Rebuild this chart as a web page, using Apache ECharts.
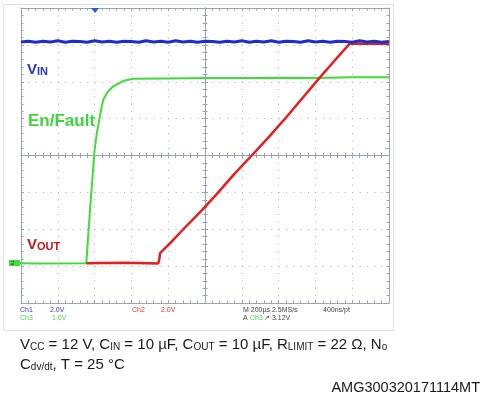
<!DOCTYPE html>
<html><head><meta charset="utf-8">
<script src="https://cdn.jsdelivr.net/npm/echarts@6/dist/echarts.min.js"></script>
<style>html,body{margin:0;padding:0;background:#fff}#c{width:482px;height:400px}</style>
</head><body><div id="c"></div><script>
// Scope screen in divisions, centred: x -5..5 (200 µs/div), y -4..4
const vinTrace = [[-5,3.08],[-4.8,3.10],[-4.6,3.07],[-4.4,3.10],[-4.2,3.08],[-4.0,3.11],[-3.8,3.07],[-3.6,3.10],[-3.4,3.09],[-3.2,3.07],[-3.0,3.11],[-2.8,3.08],[-2.6,3.10],[-2.4,3.07],[-2.2,3.10],[-2.0,3.09],[-1.8,3.07],[-1.6,3.11],[-1.4,3.08],[-1.2,3.10],[-1.0,3.07],[-0.8,3.11],[-0.6,3.08],[-0.4,3.10],[-0.2,3.07],[0,3.10],[0.2,3.09],[0.4,3.07],[0.6,3.10],[0.8,3.08],[1.0,3.11],[1.2,3.07],[1.4,3.10],[1.6,3.08],[1.8,3.11],[2.0,3.07],[2.2,3.10],[2.4,3.09],[2.6,3.07],[2.8,3.11],[3.0,3.08],[3.2,3.10],[3.4,3.07],[3.6,3.10],[3.8,3.09],[4.0,3.07],[4.2,3.11],[4.4,3.08],[4.6,3.10],[4.8,3.07],[5,3.09]];
const enFaultTrace = [[-5.3,-2.92],[-4.5,-2.93],[-3.225,-2.92],[-3.12,-1.4],[-3.0,0.15],[-2.94,0.6],[-2.85,1.1],[-2.77,1.5],[-2.65,1.72],[-2.5,1.87],[-2.23,2.02],[-1.96,2.08],[-1.0,2.09],[0,2.1],[1,2.1],[2,2.11],[3,2.1],[4,2.12],[5,2.12]];
const voutTrace = [[-3.225,-2.92],[-2.2,-2.91],[-1.27,-2.93],[-1.24,-2.8],[-1.22,-2.65],[-0.9,-2.33],[-0.59,-2.0],[-0.1,-1.5],[0.36,-1.0],[0.8,-0.5],[1.27,0.0],[1.75,0.52],[2.22,1.05],[2.65,1.56],[3.1,2.09],[3.5,2.55],[3.94,3.04],[4.4,3.03],[5,3.03]];
const xDivRange = [-5, 5];
const yDivRange = [-4, 4];

const GRID_C = '#9aa0b8';
const dotted = {color:'#a8adbf', width:1, type:[1,6.36]};
function xAx(pos, onZero, inside, split){
  return {type:'value', min:xDivRange[0], max:xDivRange[1], interval:1, position:pos,
    axisLine:{show:true, onZero:onZero, onZeroAxisIndex:0, lineStyle:{color:GRID_C,width:1}},
    axisTick:{show:true, inside:inside, length:3, lineStyle:{color:GRID_C}},
    minorTick:{show:true, splitNumber:5, length:2.5, lineStyle:{color:GRID_C}},
    splitLine:{show:split, lineStyle:dotted}, minorSplitLine:{show:false},
    axisLabel:{show:false}};
}
function yAx(pos, onZero, inside, split){
  return {type:'value', min:yDivRange[0], max:yDivRange[1], interval:1, position:pos,
    axisLine:{show:true, onZero:onZero, onZeroAxisIndex:0, lineStyle:{color:GRID_C,width:1}},
    axisTick:{show:true, inside:inside, length:3, lineStyle:{color:GRID_C}},
    minorTick:{show:true, splitNumber:5, length:2.5, lineStyle:{color:GRID_C}},
    splitLine:{show:split, lineStyle:dotted}, minorSplitLine:{show:false},
    axisLabel:{show:false}};
}
const FONT = 'Liberation Sans, Arial, sans-serif';
function rt(x, y, text, rich){
  return {type:'text', x:x, y:y, z:50, style:{text:text, rich:rich, fontFamily:FONT, verticalAlign:'top'}};
}
function capRich(){
  return {
    m:{fontSize:15, fontFamily:FONT, fill:'#1a1a1a', lineHeight:20, verticalAlign:'bottom'},
    s:{fontSize:10, fontFamily:FONT, fill:'#1a1a1a', lineHeight:10, verticalAlign:'bottom'}
  };
}
function lblRich(color){
  return {
    m:{fontSize:15, fontWeight:'bold', fontFamily:FONT, fill:color, lineHeight:20, verticalAlign:'bottom'},
    s:{fontSize:11, fontWeight:'bold', fontFamily:FONT, fill:color, lineHeight:10, verticalAlign:'bottom'}
  };
}
function small(x, y, text, color){
  return {type:'text', x:x, y:y, z:50, style:{text:text, fontSize:7, fontFamily:FONT, fill:color, verticalAlign:'middle'}};
}

const chart = echarts.init(document.getElementById('c'), null, {renderer:'canvas'});
chart.setOption({
  animation:false,
  backgroundColor:'#ffffff',
  grid:{left:21, top:8, width:368, height:295, show:false},
  xAxis:[xAx('bottom',false,true,true), xAx('top',false,true,false), xAx('bottom',true,true,false), xAx('bottom',true,false,false)],
  yAxis:[yAx('left',false,true,true), yAx('right',false,true,false), yAx('left',true,true,false), yAx('left',true,false,false)],
  series:[
    {type:'line', data:enFaultTrace, xAxisIndex:0, yAxisIndex:0, symbol:'none', clip:false, z:3,
     lineStyle:{color:'#3fdc3a', width:2}},
    {type:'line', data:voutTrace, xAxisIndex:0, yAxisIndex:0, symbol:'none', clip:false, z:4,
     lineStyle:{color:'#e81c1c', width:2.5}},
    {type:'line', data:vinTrace, xAxisIndex:0, yAxisIndex:0, symbol:'none', clip:false, z:5,
     lineStyle:{color:'#1f2ccc', width:3}}
  ],
  graphic:[
    {type:'rect', shape:{x:3.5, y:4.5, width:390, height:326}, style:{fill:'none', stroke:'#e2e2e2', lineWidth:1}, z:-10},
    {type:'polygon', shape:{points:[[91,8],[99,8],[95,13]]}, style:{fill:'#2a5ad8'}, z:60},
    {type:'text', x:383, y:148, z:60, style:{text:'\u2190', fontSize:8, fontFamily:FONT, fill:'#3fdc3a', verticalAlign:'middle'}},
    {type:'rect', shape:{x:9, y:260, width:11, height:6}, style:{fill:'#3fdc3a'}, z:60},
    {type:'text', x:11, y:263, z:61, style:{text:'2', fontSize:6, fontFamily:FONT, fill:'#333', verticalAlign:'middle'}},
    rt(27, 57, '{m|V}{s|IN}', lblRich('#2b35c4')),
    {type:'text', x:28, y:121, z:50, style:{text:'En/Fault', fontSize:17, fontWeight:'bold', fontFamily:FONT, fill:'#3fd63a', verticalAlign:'middle'}},
    rt(27, 232, '{m|V}{s|OUT}', lblRich('#c8141c')),
    small(20, 310, 'Ch1', '#3040d0'), small(50, 310, '2.0V', '#3040d0'),
    small(20, 318, 'Ch3', '#44dd44'), small(52, 318, '1.0V', '#44dd44'),
    small(132, 310, 'Ch2', '#e03030'), small(161, 310, '2.0V', '#e03030'),
    small(243, 310, 'M 200\u00b5s 2.5MS/s', '#444'), small(323, 310, '400ns/pt', '#444'),
    small(243, 318, 'A', '#444'), small(250, 318, 'Ch3', '#44dd44'), small(264, 318, '\u2197 3.12V', '#444'),
    rt(20, 332, '{m|V}{s|CC}{m| = 12 V, C}{s|IN}{m| = 10 \u00b5F, C}{s|OUT}{m| = 10 \u00b5F, R}{s|LIMIT}{m| = 22 \u03a9, N}{s|o}', capRich()),
    rt(20, 352, '{m|C}{s|dv/dt}{m|, T = 25 \u00b0C}', capRich()),
    {type:'text', x:480, y:388, z:50, style:{text:'AMG300320171114MT', fontSize:14.5, fontFamily:FONT, fill:'#1a1a1a', align:'right', verticalAlign:'middle'}}
  ]
});
</script></body></html>
